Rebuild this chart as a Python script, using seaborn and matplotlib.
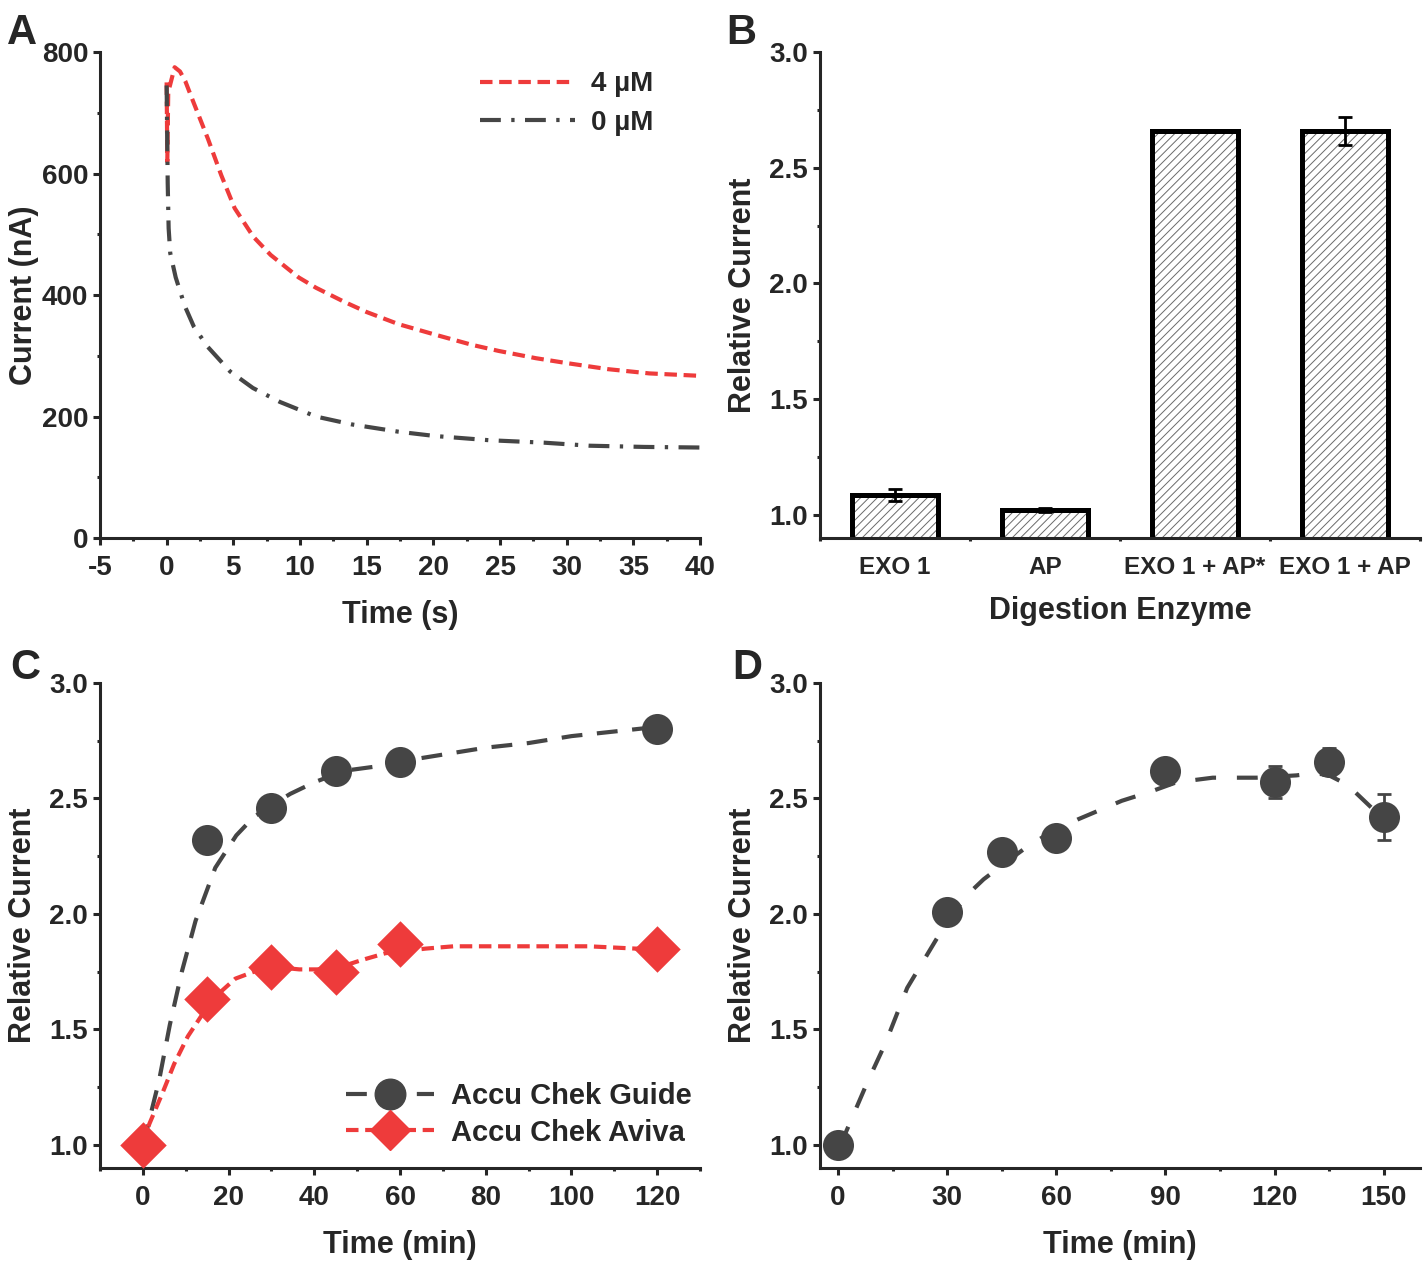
import matplotlib
matplotlib.use("Agg")
import matplotlib.pyplot as plt
from matplotlib.ticker import MultipleLocator, FormatStrFormatter
import seaborn as sns
import pandas as pd

# ---- Panel A: chronoamperometry traces ----
time_4um = [0.0, 0.05, 0.12, 0.25, 0.6, 1.0, 1.4, 2.0, 3.1, 4.1, 5.1, 6.5, 7.8, 9.9,
            11.2, 13.3, 15.0, 17.4, 20.1, 22.9, 24.9, 27.7, 30.0, 33.1, 36.2, 40.0]
current_4um = [750, 620, 735, 745, 775, 768, 752, 718, 657, 597, 543, 496, 466, 429,
               412, 389, 372, 352, 335, 318, 308, 296, 288, 278, 271, 267]
time_0um = [0.0, 0.03, 0.08, 0.15, 0.27, 0.68, 1.36, 2.04, 3.07, 4.77, 6.47, 8.5,
            11.2, 13.9, 17.4, 20.1, 24.2, 28.3, 31.7, 35.8, 40.0]
current_0um = [745, 684, 584, 510, 469, 429, 382, 348, 315, 274, 247, 224,
               200, 187, 175, 168, 161, 157, 152, 150, 149]

# ---- Panel B: digestion enzyme ----
enzymes = ["EXO 1", "AP", "EXO 1 + AP*", "EXO 1 + AP"]
enzyme_current = [1.085, 1.02, 2.66, 2.66]
enzyme_err = [0.025, 0.008, 0.0, 0.06]

# ---- Panel C: two meters ----
c_time = [0, 15, 30, 45, 60, 120]
guide_pts = [1.0, 2.32, 2.46, 2.62, 2.66, 2.80]
aviva_pts = [1.0, 1.63, 1.77, 1.75, 1.87, 1.85]
guide_fit_t = [0, 1, 3.8, 6.3, 9.1, 12.3, 16.9, 21.8, 25.9, 30, 34.4, 40, 47, 55,
               60, 70, 80, 90, 100, 110, 120]
guide_fit_y = [1.0, 1.07, 1.28, 1.52, 1.75, 1.97, 2.20, 2.34, 2.42, 2.47, 2.52, 2.57,
               2.62, 2.64, 2.66, 2.69, 2.72, 2.74, 2.77, 2.79, 2.81]
aviva_fit_t = [0, 1.5, 4.7, 7.3, 10.5, 13.7, 17.4, 21.6, 25.9, 31, 36.5, 40.7, 46,
               51, 56.6, 66, 72.5, 83, 94, 104, 115, 120]
aviva_fit_y = [1.0, 1.09, 1.23, 1.35, 1.47, 1.56, 1.65, 1.72, 1.75, 1.77, 1.76, 1.76,
               1.77, 1.80, 1.83, 1.85, 1.86, 1.86, 1.86, 1.86, 1.85, 1.85]

# ---- Panel D: single meter over time ----
d_time = [0, 30, 45, 60, 90, 120, 135, 150]
d_pts = [1.0, 2.01, 2.27, 2.33, 2.62, 2.57, 2.66, 2.42]
d_err = [0.0, 0.0, 0.0, 0.0, 0.0, 0.07, 0.06, 0.10]
d_fit_t = [0, 2, 8, 13, 19, 27, 31, 36, 40, 45, 51, 57, 66, 78, 86, 93, 103, 115,
           126, 131, 135, 140, 146, 150]
d_fit_y = [1.0, 1.05, 1.27, 1.44, 1.68, 1.89, 1.99, 2.09, 2.15, 2.21, 2.28, 2.34,
           2.41, 2.49, 2.53, 2.57, 2.59, 2.59, 2.60, 2.61, 2.60, 2.56, 2.47, 2.41]

RED = "#EE3B3B"
GRAY = "#454545"
TICK_FS = 20
LABEL_FS = 22

sns.set_style("ticks")
plt.rcParams["font.family"] = ["Liberation Sans", "DejaVu Sans"]
plt.rcParams["font.weight"] = "bold"
plt.rcParams["axes.labelweight"] = "bold"
plt.rcParams["axes.linewidth"] = 2.2
plt.rcParams["axes.unicode_minus"] = False
plt.rcParams["hatch.linewidth"] = 0.7

fig = plt.figure(figsize=(14.24, 12.66), dpi=100)
axA = fig.add_axes([0.0702, 0.575, 0.4214, 0.3839])
axB = fig.add_axes([0.5758, 0.575, 0.4214, 0.3839])
axC = fig.add_axes([0.0702, 0.0774, 0.4214, 0.3831])
axD = fig.add_axes([0.5758, 0.0774, 0.4214, 0.3831])


def style_axis(ax):
    sns.despine(ax=ax)
    ax.tick_params(which="major", length=5, width=2.2, labelsize=TICK_FS,
                   direction="out")
    ax.tick_params(axis="x", which="major", pad=7)
    ax.tick_params(which="minor", length=2.5, width=2.2, direction="out")
    for lab in ax.get_xticklabels() + ax.get_yticklabels():
        lab.set_fontweight("bold")


# Panel A
dfA4 = pd.DataFrame({"t": time_4um, "i": current_4um})
dfA0 = pd.DataFrame({"t": time_0um, "i": current_0um})
sns.lineplot(data=dfA4, x="t", y="i", ax=axA, color=RED, lw=3, sort=False,
             label="4 µM")
sns.lineplot(data=dfA0, x="t", y="i", ax=axA, color=GRAY, lw=3, sort=False,
             label="0 µM")
axA.lines[0].set_dashes([3, 1.6])
axA.lines[1].set_dashes([5, 2.5, 0.8, 2.5])
axA.set_xlim(-5, 40)
axA.set_ylim(0, 800)
axA.xaxis.set_major_locator(MultipleLocator(5))
axA.xaxis.set_minor_locator(MultipleLocator(2.5))
axA.yaxis.set_major_locator(MultipleLocator(200))
axA.yaxis.set_minor_locator(MultipleLocator(100))
axA.set_xlabel("Time (s)", fontsize=LABEL_FS, labelpad=14)
axA.set_ylabel("Current (nA)", fontsize=LABEL_FS, labelpad=2)
axA.legend(loc="upper right", frameon=False, fontsize=20, handlelength=3.4,
           handletextpad=0.6, borderaxespad=0.3, labelspacing=0.45,
           bbox_to_anchor=(0.955, 1.0))
style_axis(axA)

# Panel B
dfB = pd.DataFrame({"enzyme": enzymes, "current": enzyme_current})
sns.barplot(data=dfB, x="enzyme", y="current", ax=axB, color="white", width=0.57,
            hatch="////", edgecolor="#6a6a6a", linewidth=0, errorbar=None,
            saturation=1)
sns.barplot(data=dfB, x="enzyme", y="current", ax=axB, fill=False, width=0.57,
            edgecolor="black", linewidth=3.6, errorbar=None)
axB.errorbar(x=range(len(enzymes)), y=enzyme_current, yerr=enzyme_err, fmt="none",
             ecolor="black", elinewidth=2, capsize=5, capthick=2, zorder=5)
axB.set_xlim(-0.5, 3.5)
axB.set_ylim(0.9, 3.0)
axB.yaxis.set_major_locator(MultipleLocator(0.5))
axB.yaxis.set_minor_locator(MultipleLocator(0.25))
axB.yaxis.set_major_formatter(FormatStrFormatter("%.1f"))
axB.set_xticks([-0.5, 0.5, 1.5, 2.5, 3.5], minor=True)
axB.set_xlabel("Digestion Enzyme", fontsize=LABEL_FS, labelpad=12)
axB.set_ylabel("Relative Current", fontsize=LABEL_FS, labelpad=8)
style_axis(axB)
axB.tick_params(axis="x", which="major", length=0, labelsize=17.5, pad=13)

# Panel C
dfGuide = pd.DataFrame({"t": c_time, "y": guide_pts})
dfAviva = pd.DataFrame({"t": c_time, "y": aviva_pts})
sns.lineplot(x=guide_fit_t, y=guide_fit_y, ax=axC, color=GRAY, lw=3)
sns.lineplot(x=aviva_fit_t, y=aviva_fit_y, ax=axC, color=RED, lw=3)
axC.lines[0].set_dashes([5, 3.5])
axC.lines[1].set_dashes([3, 1.6])
sns.scatterplot(data=dfGuide, x="t", y="y", ax=axC, color=GRAY, marker="o", s=500,
                edgecolor=GRAY, linewidth=0, zorder=4)
sns.scatterplot(data=dfAviva, x="t", y="y", ax=axC, color=RED, marker="D", s=560,
                edgecolor=RED, linewidth=0, zorder=5)
axC.set_xlim(-10, 130)
axC.set_ylim(0.9, 3.0)
axC.xaxis.set_major_locator(MultipleLocator(20))
axC.xaxis.set_minor_locator(MultipleLocator(10))
axC.yaxis.set_major_locator(MultipleLocator(0.5))
axC.yaxis.set_minor_locator(MultipleLocator(0.25))
axC.yaxis.set_major_formatter(FormatStrFormatter("%.1f"))
axC.set_xlabel("Time (min)", fontsize=LABEL_FS, labelpad=14)
axC.set_ylabel("Relative Current", fontsize=LABEL_FS, labelpad=8)
h1, = axC.plot([], [], color=GRAY, lw=3, marker="o", ms=22, dashes=[5, 3.5])
h2, = axC.plot([], [], color=RED, lw=3, marker="D", ms=20, dashes=[3, 1.6])
axC.legend([h1, h2], ["Accu Chek Guide", "Accu Chek Aviva"], loc="lower right",
           frameon=False, fontsize=21, handlelength=3.0, handletextpad=0.6,
           labelspacing=0.3, bbox_to_anchor=(1.03, -0.01))
style_axis(axC)

# Panel D
dfD = pd.DataFrame({"t": d_time, "y": d_pts})
sns.lineplot(x=d_fit_t, y=d_fit_y, ax=axD, color=GRAY, lw=3)
axD.lines[0].set_dashes([5, 5])
axD.errorbar(x=d_time, y=d_pts, yerr=d_err, fmt="none", ecolor=GRAY, elinewidth=2,
             capsize=5, capthick=2, zorder=3)
sns.scatterplot(data=dfD, x="t", y="y", ax=axD, color=GRAY, marker="o", s=500,
                edgecolor=GRAY, linewidth=0, zorder=4)
axD.set_xlim(-5, 160)
axD.set_ylim(0.9, 3.0)
axD.xaxis.set_major_locator(MultipleLocator(30))
axD.xaxis.set_minor_locator(MultipleLocator(15))
axD.yaxis.set_major_locator(MultipleLocator(0.5))
axD.yaxis.set_minor_locator(MultipleLocator(0.25))
axD.yaxis.set_major_formatter(FormatStrFormatter("%.1f"))
axD.set_xlabel("Time (min)", fontsize=LABEL_FS, labelpad=14)
axD.set_ylabel("Relative Current", fontsize=LABEL_FS, labelpad=8)
style_axis(axD)

for letter, (x, y) in zip("ABCD", [(0.005, 0.974), (0.51, 0.974),
                                   (0.007, 0.472), (0.514, 0.472)]):
    fig.text(x, y, letter, fontsize=30, fontweight="bold", va="center")

fig.savefig("out.png", dpi=100)
